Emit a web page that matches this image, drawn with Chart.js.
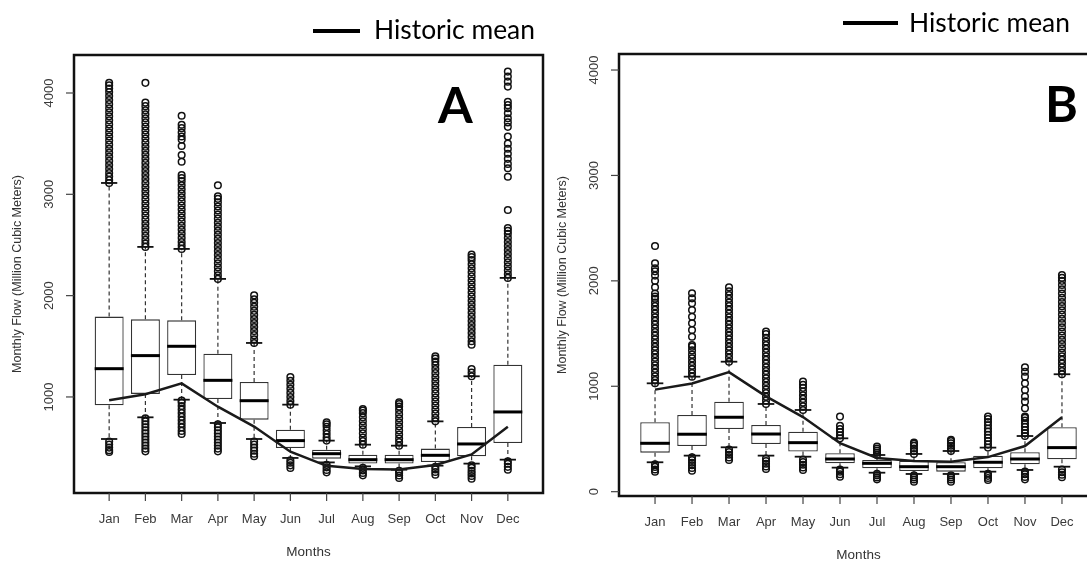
<!DOCTYPE html>
<html>
<head>
<meta charset="utf-8">
<script src="https://cdn.jsdelivr.net/npm/chart.js@4.4.1/dist/chart.umd.min.js"></script>
<style>
  html, body { margin: 0; padding: 0; background: #fff; overflow: hidden; width: 1087px; height: 561px; }
  .panel { position: absolute; top: 0; height: 561px; }
  #wrapA { left: 0; width: 560px; }
  #wrapB { left: 548px; width: 572px; }
</style>
</head>
<body>
<div class="panel" id="wrapA"><canvas id="chartA" width="560" height="561"></canvas></div>
<div class="panel" id="wrapB"><canvas id="chartB" width="572" height="561"></canvas></div>
<script>
const months = ["Jan", "Feb", "Mar", "Apr", "May", "Jun", "Jul", "Aug", "Sep", "Oct", "Nov", "Dec"]
const historicMean = [968, 1026, 1134, 904, 708, 460, 320, 290, 283, 328, 433, 706]

// Panel A
const yTicksA = [1000, 2000, 3000, 4000]
const loWhiskA = [585, 799, 973, 743, 585, 398, 354, 315, 282, 322, 342, 381]
const q1A      = [917, 1030, 1217, 980, 776, 496, 391, 342, 342, 358, 414, 546]
const medianA  = [1279, 1408, 1500, 1164, 963, 569, 440, 381, 381, 424, 536, 852]
const q3A      = [1793, 1766, 1756, 1427, 1148, 677, 480, 430, 430, 490, 704, 1319]
const hiWhiskA = [3112, 2481, 2461, 2165, 1533, 924, 569, 529, 519, 759, 1204, 2175]
const outliersA = [
  [457, 475, 500, 530, 560, 3112, 3140, 3175, 3210, 3250, 3290, 3330, 3370, 3410, 3450, 3490, 3530, 3570, 3610, 3650, 3690, 3730, 3770, 3810, 3850, 3890, 3930, 3970, 4010, 4045, 4075, 4100],
  [463, 490, 520, 550, 580, 610, 640, 670, 700, 730, 760, 790, 2481, 2515, 2550, 2590, 2630, 2670, 2710, 2750, 2790, 2830, 2870, 2910, 2950, 2990, 3030, 3070, 3110, 3150, 3190, 3230, 3270, 3310, 3350, 3390, 3430, 3470, 3510, 3550, 3590, 3630, 3670, 3710, 3750, 3790, 3830, 3870, 3905, 4100],
  [635, 665, 700, 735, 770, 805, 840, 875, 910, 945, 965, 2461, 2495, 2530, 2570, 2610, 2650, 2690, 2730, 2770, 2810, 2850, 2890, 2930, 2970, 3010, 3050, 3090, 3130, 3160, 3189, 3322, 3388, 3477, 3540, 3570, 3610, 3653, 3686, 3775],
  [463, 490, 520, 550, 580, 610, 640, 670, 700, 730, 2165, 2200, 2240, 2280, 2320, 2360, 2400, 2440, 2480, 2520, 2560, 2600, 2640, 2680, 2720, 2760, 2800, 2840, 2880, 2920, 2955, 2980, 3089],
  [414, 440, 470, 500, 530, 560, 1533, 1570, 1610, 1650, 1690, 1730, 1770, 1810, 1850, 1890, 1930, 1965, 2003],
  [299, 325, 350, 375, 924, 960, 1000, 1040, 1080, 1120, 1160, 1197],
  [256, 280, 305, 330, 569, 600, 635, 670, 705, 730, 749],
  [226, 250, 275, 300, 529, 565, 600, 640, 680, 720, 760, 800, 840, 865, 881],
  [200, 225, 250, 270, 519, 555, 590, 630, 670, 710, 750, 790, 830, 870, 905, 930, 947],
  [233, 260, 285, 310, 759, 795, 835, 875, 915, 955, 995, 1035, 1075, 1115, 1155, 1195, 1235, 1275, 1315, 1350, 1380, 1401],
  [193, 220, 245, 270, 300, 325, 1204, 1240, 1276, 1516, 1550, 1590, 1630, 1670, 1710, 1750, 1790, 1830, 1870, 1910, 1950, 1990, 2030, 2070, 2110, 2150, 2190, 2230, 2270, 2310, 2350, 2380, 2405],
  [282, 310, 340, 365, 2175, 2210, 2250, 2290, 2330, 2370, 2410, 2450, 2490, 2530, 2570, 2610, 2640, 2668, 2845, 3173, 3257, 3300, 3350, 3400, 3450, 3500, 3570, 3666, 3710, 3750, 3800, 3850, 3880, 3914, 4063, 4112, 4162, 4211]
]

// Panel B
const yTicksB = [0, 1000, 2000, 3000, 4000]
const loWhiskB = [279, 342, 421, 342, 332, 228, 180, 168, 168, 190, 206, 237]
const q1B      = [370, 434, 595, 453, 380, 269, 222, 196, 190, 222, 260, 307]
const medianB  = [459, 545, 706, 547, 465, 310, 269, 237, 237, 279, 310, 418]
const q3B      = [658, 728, 854, 633, 569, 364, 301, 294, 279, 342, 374, 611]
const hiWhiskB = [1028, 1091, 1233, 832, 775, 506, 348, 358, 386, 418, 528, 1114]
const outliersB = [
  [190, 210, 235, 260, 1028, 1060, 1095, 1130, 1165, 1200, 1235, 1270, 1305, 1340, 1375, 1410, 1445, 1480, 1515, 1550, 1585, 1620, 1655, 1690, 1725, 1760, 1795, 1830, 1850, 1880, 1940, 2000, 2050, 2090, 2120, 2167, 2331],
  [199, 225, 250, 275, 300, 325, 1091, 1125, 1160, 1195, 1230, 1265, 1300, 1340, 1376, 1391, 1470, 1534, 1597, 1660, 1723, 1787, 1834, 1882],
  [301, 325, 350, 375, 400, 1233, 1270, 1305, 1340, 1375, 1410, 1445, 1480, 1515, 1550, 1585, 1620, 1655, 1690, 1725, 1760, 1795, 1830, 1865, 1900, 1939],
  [215, 240, 265, 290, 315, 832, 865, 900, 935, 970, 1005, 1040, 1075, 1110, 1145, 1180, 1215, 1250, 1285, 1320, 1355, 1390, 1425, 1460, 1495, 1518],
  [206, 230, 255, 280, 305, 775, 810, 845, 880, 915, 950, 985, 1015, 1044],
  [142, 165, 190, 210, 506, 535, 565, 595, 626, 712],
  [117, 135, 155, 170, 348, 370, 390, 410, 427],
  [95, 115, 135, 155, 358, 385, 410, 435, 455, 465],
  [95, 115, 135, 155, 386, 410, 435, 460, 480, 491],
  [111, 130, 150, 170, 418, 450, 480, 510, 540, 570, 600, 630, 660, 690, 712],
  [117, 140, 165, 190, 528, 555, 585, 615, 645, 675, 700, 712, 791, 854, 902, 965, 1028, 1091, 1138, 1180],
  [137, 160, 185, 210, 1114, 1145, 1180, 1215, 1250, 1285, 1320, 1360, 1400, 1440, 1480, 1520, 1560, 1600, 1640, 1680, 1720, 1760, 1800, 1840, 1880, 1920, 1960, 2000, 2030, 2056]
]

const AXIS_FONT = "'Liberation Sans', Arial, sans-serif"

function strokeLine(ctx, x1, y1, x2, y2) {
  ctx.beginPath()
  ctx.moveTo(x1, y1)
  ctx.lineTo(x2, y2)
  ctx.stroke()
}

// whiskers, medians, frame and the R-style axis decoration
const boxplotDeco = {
  id: "boxplotDeco",
  beforeDatasetsDraw(chart, args, o) {
    const { ctx, scales: { x, y } } = chart
    const boxW = (x.getPixelForValue(2) - x.getPixelForValue(1)) * 0.8
    ctx.save()
    o.q1.forEach((q1, i) => {
      const px = x.getPixelForValue(i + 1)
      const yLo = y.getPixelForValue(o.lo[i])
      const yHi = y.getPixelForValue(o.hi[i])
      ctx.strokeStyle = "#333"
      ctx.lineWidth = 1.2
      ctx.setLineDash([4, 3])
      strokeLine(ctx, px, y.getPixelForValue(o.q3[i]), px, yHi)
      strokeLine(ctx, px, y.getPixelForValue(q1), px, yLo)
      ctx.setLineDash([])
      ctx.lineWidth = 1.8
      ctx.strokeStyle = "#111"
      strokeLine(ctx, px - boxW * 0.28, yHi, px + boxW * 0.28, yHi)
      strokeLine(ctx, px - boxW * 0.28, yLo, px + boxW * 0.28, yLo)
    })
    ctx.restore()
  },
  afterDatasetDraw(chart, args, o) {
    if (args.index !== 1) return
    const { ctx, scales: { x, y } } = chart
    const boxW = (x.getPixelForValue(2) - x.getPixelForValue(1)) * 0.8
    ctx.save()
    ctx.strokeStyle = "#000"
    ctx.lineWidth = 3
    o.med.forEach((m, i) => {
      const px = x.getPixelForValue(i + 1)
      const py = y.getPixelForValue(m)
      strokeLine(ctx, px - boxW / 2, py, px + boxW / 2, py)
    })
    ctx.restore()
  },
  afterDraw(chart, args, o) {
    const { ctx, chartArea: a, scales: { x, y } } = chart
    ctx.save()
    ctx.strokeStyle = "#111"
    ctx.lineWidth = 2.5
    ctx.strokeRect(a.left, a.top, a.right - a.left, a.bottom - a.top)

    ctx.strokeStyle = "#444"
    ctx.fillStyle = "#3a3a3a"
    ctx.lineWidth = 1.2
    ctx.font = "13px " + AXIS_FONT
    ctx.textAlign = "center"
    ctx.textBaseline = "middle"
    o.yTicks.forEach(v => {
      const py = y.getPixelForValue(v)
      strokeLine(ctx, a.left - 8, py, a.left, py)
      ctx.save()
      ctx.translate(a.left - 25, py)
      ctx.rotate(-Math.PI / 2)
      ctx.fillText(String(v), 0, 0)
      ctx.restore()
    })
    months.forEach((m, i) => {
      const px = x.getPixelForValue(i + 1)
      strokeLine(ctx, px, a.bottom, px, a.bottom + 8)
      ctx.fillText(m, px, a.bottom + 26)
    })

    ctx.fillStyle = "#333"
    ctx.font = "13.5px " + AXIS_FONT
    ctx.fillText("Months", (a.left + a.right) / 2, a.bottom + 59)
    ctx.save()
    ctx.translate(a.left - 56, (a.top + a.bottom) / 2)
    ctx.rotate(-Math.PI / 2)
    ctx.font = "12.5px " + AXIS_FONT
    ctx.fillText("Monthly Flow (Million Cubic Meters)", 0, 0)
    ctx.restore()

    // legend
    const lg = o.legend
    ctx.strokeStyle = "#000"
    ctx.lineWidth = 4
    strokeLine(ctx, lg.x1, lg.y, lg.x2, lg.y)
    ctx.fillStyle = "#000"
    ctx.textAlign = "left"
    ctx.textBaseline = "alphabetic"
    ctx.font = "24px Lato"
    const w = ctx.measureText("Historic mean").width
    ctx.font = (24 * lg.textW / w).toFixed(2) + "px Lato"
    ctx.fillText("Historic mean", lg.textX, lg.baseline)

    // panel letter
    ctx.font = "bold 50px Lato"
    ctx.fillText(o.letter.text, o.letter.x, o.letter.y)
    ctx.restore()
  }
}

function makePanel(id, p) {
  return new Chart(document.getElementById(id), {
    type: "bar",
    data: {
      datasets: [
        {
          type: "line",
          label: "Outliers",
          data: p.outliers.flatMap((vals, i) => vals.map(v => ({ x: i + 1, y: v }))),
          showLine: false,
          pointStyle: "circle",
          pointRadius: 3.3,
          pointBorderWidth: 1.5,
          pointBorderColor: "#111",
          pointBackgroundColor: "transparent",
          order: 3
        },
        {
          type: "bar",
          label: "Boxes",
          data: p.q1.map((q, i) => ({ x: i + 1, y: [q, p.q3[i]] })),
          backgroundColor: "#fff",
          borderColor: "#333",
          borderWidth: 1.3,
          borderSkipped: false,
          barPercentage: 0.8,
          categoryPercentage: 1,
          order: 2
        },
        {
          type: "line",
          label: "Historic mean",
          data: historicMean.map((v, i) => ({ x: i + 1, y: v })),
          borderColor: "#1a1a1a",
          borderWidth: 2.5,
          pointRadius: 0,
          fill: false,
          tension: 0,
          order: 1
        }
      ]
    },
    options: {
      responsive: false,
      animation: false,
      layout: { padding: p.padding },
      plugins: {
        legend: { display: false },
        tooltip: { enabled: false },
        boxplotDeco: {
          lo: p.lo, q1: p.q1, med: p.med, q3: p.q3, hi: p.hi,
          yTicks: p.yTicks, legend: p.legend, letter: p.letter
        }
      },
      scales: {
        x: { type: "linear", offset: false, min: p.xMin, max: p.xMax, display: false },
        y: { type: "linear", min: p.yMin, max: p.yMax, display: false }
      }
    },
    plugins: [boxplotDeco]
  })
}

makePanel("chartA", {
  lo: loWhiskA, q1: q1A, med: medianA, q3: q3A, hi: hiWhiskA, outliers: outliersA,
  yTicks: yTicksA, xMin: 0.03, xMax: 12.97, yMin: 52, yMax: 4375,
  padding: { left: 74, top: 55, right: 17, bottom: 68 },
  legend: { x1: 313, x2: 360, y: 31, textX: 374, textW: 161, baseline: 39 },
  letter: { text: "A", x: 438, y: 123 }
})

// canvas B starts at x=548 on the page
makePanel("chartB", {
  lo: loWhiskB, q1: q1B, med: medianB, q3: q3B, hi: hiWhiskB, outliers: outliersB,
  yTicks: yTicksB, xMin: 0.026, xMax: 12.974, yMin: -41, yMax: 4152,
  padding: { left: 71, top: 54, right: 22, bottom: 65 },
  legend: { x1: 295, x2: 350, y: 23, textX: 361, textW: 161, baseline: 32 },
  letter: { text: "B", x: 497, y: 122 }
})
</script>
</body>
</html>
